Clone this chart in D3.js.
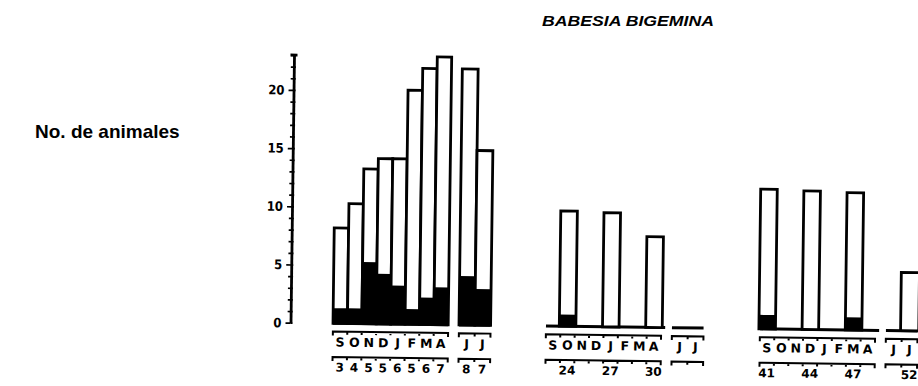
<!DOCTYPE html>
<html>
<head>
<meta charset="utf-8">
<script src="https://cdn.jsdelivr.net/npm/d3@7"></script>
<style>
  html, body { margin: 0; padding: 0; background: #fff; }
  svg { display: block; }
</style>
</head>
<body>
<svg id="chart" width="918" height="386"></svg>
<script>
// Babesia bigemina: animals examined per month (bar) and positives (black part)
const months = ["S", "O", "N", "D", "J", "F", "M", "A"];
const summerMonths = ["J", "J"];

// first season: every month sampled
const s1Total = [8.2, 10.3, 13.3, 14.2, 14.2, 20.1, 22, 23];
const s1Positive = [1.3, 1.3, 5.3, 4.3, 3.3, 1.3, 2.3, 3.2];
const s1Labels = ["3", "4", "5", "5", "6", "5", "6", "7"];
const s1SummerTotal = [22, 15];
const s1SummerPositive = [4.2, 3.1];
const s1SummerLabels = ["8", "7"];

// second season: sampled in O, J, A
const s2Months = [1, 4, 7];
const s2Total = [9.9, 9.8, 7.8];
const s2Positive = [1.0, 0, 0];
const s2Labels = ["24", "27", "30"];

// third season: sampled in S, D, M and the second J
const s3Months = [0, 3, 6];
const s3Total = [12.0, 11.9, 11.8];
const s3Positive = [1.2, 0, 1.1];
const s3Labels = ["41", "44", "47"];
const s3SummerMonths = [1];
const s3SummerTotal = [5.0];
const s3SummerPositive = [0];
const s3SummerLabels = ["52"];

const yMax = 23;
const yTicks = [0, 5, 10, 15, 20];

// ---- layout ----
const svg = d3.select("#chart");
const axisX = 290.5;
const y = d3.scaleLinear().domain([0, yMax]).range([322.7, 55]);

const blockStart = [333, 546, 760];
const slotW = 14.4;
const summerGap = 126;
const summerSlotW = 15.8;

const seasons = [
  {
    months: d3.range(8), total: s1Total, positive: s1Positive,
    labels: s1Labels, labelSlots: d3.range(8), fill: true,
    summer: { months: [0, 1], total: s1SummerTotal, positive: s1SummerPositive,
              labels: s1SummerLabels, labelSlots: [0, 1] }
  },
  {
    months: s2Months, total: s2Total, positive: s2Positive,
    labels: s2Labels, labelSlots: s2Months, fill: false,
    summer: { months: [], total: [], positive: [], labels: [], labelSlots: [] }
  },
  {
    months: s3Months, total: s3Total, positive: s3Positive,
    labels: s3Labels, labelSlots: s3Months, fill: false,
    summer: { months: s3SummerMonths, total: s3SummerTotal, positive: s3SummerPositive,
              labels: s3SummerLabels, labelSlots: s3SummerMonths }
  }
];

// the whole plot sits on a very slight clockwise tilt
const plot = svg.append("g").attr("transform", `rotate(0.75, ${axisX}, ${y(0)})`);

// ---- y axis ----
const ax = plot.append("g")
  .attr("transform", `translate(${axisX},0)`)
  .call(d3.axisLeft(y)
    .tickValues(d3.range(0, yMax + 1))
    .tickSize(3)
    .tickSizeOuter(0)
    .tickPadding(6)
    .tickFormat(d => yTicks.includes(d) ? d : ""));
ax.select(".domain").attr("stroke", "#000").attr("stroke-width", 2.8);
ax.selectAll(".tick line").attr("stroke", "#000").attr("stroke-width", 1.7)
  .filter(d => d % 5 === 0).attr("x2", -5);
ax.selectAll(".tick text")
  .attr("fill", "#000")
  .style("font-family", "'DejaVu Sans Condensed', 'DejaVu Sans', sans-serif")
  .style("font-size", "13px")
  .style("font-weight", "bold");

const axR = plot.append("g")
  .attr("transform", `translate(${axisX},0)`)
  .call(d3.axisRight(y).tickValues(d3.range(0, yMax + 1)).tickSize(2).tickSizeOuter(0).tickFormat(""));
axR.select(".domain").remove();
axR.selectAll(".tick line").attr("stroke", "#000").attr("stroke-width", 1.7);
plot.append("line")
  .attr("x1", axisX - 3.5).attr("x2", axisX + 3.5)
  .attr("y1", y(yMax)).attr("y2", y(yMax))
  .attr("stroke", "#000").attr("stroke-width", 2.8);

// ---- bars ----
const stroke = 2.8;
const textFont = "'DejaVu Sans', sans-serif";

function bracket(g, x0, n, w, yy) {
  let p = `M${x0},${yy + 4}L${x0},${yy}L${x0 + n * w},${yy}L${x0 + n * w},${yy + 4}`;
  for (let i = 1; i < n; i++) p += `M${x0 + i * w},${yy}L${x0 + i * w},${yy + 3}`;
  g.append("path").attr("d", p).attr("fill", "none")
    .attr("stroke", "#000").attr("stroke-width", 2);
}

function drawBlock(g, band, slots, total, positive, fill, nSlots, labels, labelSlots, monthNames, baselineEnd) {
  const x0 = band.range()[0];
  const bw = fill ? band.bandwidth() : band.bandwidth() * 1.15;
  const cx = i => band(i) + band.bandwidth() / 2;

  // ground line along the block
  g.append("line")
    .attr("x1", x0).attr("x2", baselineEnd)
    .attr("y1", y(0)).attr("y2", y(0))
    .attr("stroke", "#000").attr("stroke-width", 3);

  const bars = g.selectAll(null).data(slots.map((s, i) => ({ s, t: total[i], p: positive[i] })))
    .enter().append("g");
  bars.append("rect")
    .attr("x", d => cx(d.s) - bw / 2).attr("width", bw)
    .attr("y", d => y(d.t)).attr("height", d => y(0) - y(d.t))
    .attr("fill", "#fff");
  bars.append("rect")
    .attr("x", d => cx(d.s) - bw / 2).attr("width", bw)
    .attr("y", d => y(d.p)).attr("height", d => y(0) - y(d.p))
    .attr("fill", "#000");
  bars.append("rect")
    .attr("x", d => cx(d.s) - bw / 2).attr("width", bw)
    .attr("y", d => y(d.t)).attr("height", d => y(0) - y(d.t))
    .attr("fill", "none").attr("stroke", "#000").attr("stroke-width", stroke);

  // month letters and sample labels
  bracket(g, x0, nSlots, band.step(), 331);
  g.selectAll(null).data(monthNames).enter().append("text")
    .attr("x", (d, i) => cx(i)).attr("y", 346)
    .attr("text-anchor", "middle")
    .style("font-family", textFont).style("font-size", "12.5px").style("font-weight", "bold")
    .text(d => d);
  bracket(g, x0, nSlots, band.step(), 356.5);
  g.selectAll(null).data(labels).enter().append("text")
    .attr("x", (d, i) => cx(labelSlots[i])).attr("y", 371)
    .attr("text-anchor", "middle")
    .style("font-family", textFont).style("font-size", "12px").style("font-weight", "bold")
    .text(d => d);
}

seasons.forEach((s, k) => {
  const start = blockStart[k];
  const main = d3.scaleBand().domain(d3.range(8)).range([start, start + 8 * slotW]);
  drawBlock(plot, main, s.months, s.total, s.positive, s.fill, 8, s.labels, s.labelSlots,
    months, start + 8 * slotW + (s.fill ? 0 : 4));

  const sStart = start + summerGap;
  const summer = d3.scaleBand().domain([0, 1]).range([sStart, sStart + 2 * summerSlotW]);
  drawBlock(plot, summer, s.summer.months, s.summer.total, s.summer.positive, s.fill, 2,
    s.summer.labels, s.summer.labelSlots, summerMonths, sStart + 2 * summerSlotW);
});

// ---- titles ----
svg.append("text")
  .attr("x", 542).attr("y", 26)
  .attr("textLength", 172).attr("lengthAdjust", "spacingAndGlyphs")
  .style("font-family", "'Liberation Sans', Arial, sans-serif")
  .style("font-size", "14px").style("font-weight", "bold").style("font-style", "italic")
  .text("BABESIA BIGEMINA");

svg.append("text")
  .attr("x", 35).attr("y", 138)
  .style("font-family", "'Liberation Sans', Arial, sans-serif")
  .style("font-size", "19px").style("font-weight", "bold")
  .text("No. de animales");
</script>
</body>
</html>
